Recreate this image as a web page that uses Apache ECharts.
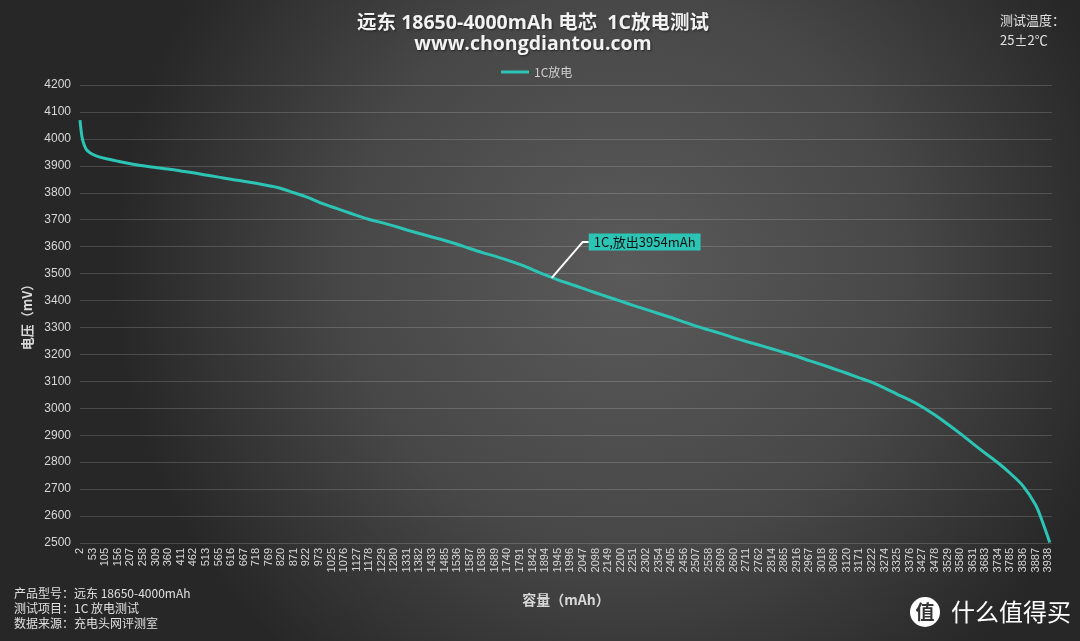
<!DOCTYPE html>
<html>
<head>
<meta charset="utf-8">
<script src="https://cdn.jsdelivr.net/npm/echarts@6/dist/echarts.min.js"></script>
<style>
html,body{margin:0;padding:0;background:#333;}
#main{width:1080px;height:641px;}
</style>
</head>
<body>
<div id="main"></div>
<script>
// x-axis tick labels (capacity, mAh)
var xTickLabels = [2,53,105,156,207,258,309,360,411,462,513,565,616,667,718,769,820,871,922,973,1025,1076,1127,1178,1229,1280,1331,1382,1433,1485,1536,1587,1638,1689,1740,1791,1842,1894,1945,1996,2047,2098,2149,2200,2251,2302,2354,2405,2456,2507,2558,2609,2660,2711,2762,2814,2865,2916,2967,3018,3069,3120,3171,3222,3274,3325,3376,3427,3478,3529,3580,3631,3683,3734,3785,3836,3887,3938];
// sampled points of the discharge curve
var capacity = [2,6,10,18,29,40,53,70,105,156,207,258,309,360,411,462,513,565,616,667,718,769,820,871,922,973,1025,1076,1127,1178,1229,1280,1331,1382,1433,1485,1536,1587,1638,1689,1740,1791,1842,1894,1945,1996,2047,2098,2149,2200,2251,2302,2354,2405,2456,2507,2558,2609,2660,2711,2762,2814,2865,2916,2967,3018,3069,3120,3171,3222,3274,3325,3376,3427,3478,3529,3580,3631,3683,3734,3785,3836,3887,3910,3945];
var voltage =  [4070,4035,4008,3980,3959,3950,3943,3936,3927,3917,3908,3900,3894,3888,3881,3874,3866,3858,3850,3843,3835,3826,3816,3800,3785,3765,3748,3732,3716,3701,3689,3676,3662,3649,3636,3623,3609,3593,3578,3565,3550,3534,3515,3495,3477,3461,3445,3429,3413,3398,3382,3367,3352,3337,3321,3305,3291,3277,3262,3248,3235,3221,3207,3193,3177,3162,3146,3130,3113,3096,3075,3052,3030,3005,2975,2942,2907,2870,2833,2798,2758,2712,2642,2592,2502];
var yTicks = {min:2500, max:4200, interval:100};
var xRange = {min:2, max:3954};
var seriesName = '1C放电';
var titleText = '远东 18650-4000mAh 电芯  1C放电测试';
var subText = 'www.chongdiantou.com';
var noteText = '1C,放出3954mAh';
var notePoint = [1920, 3484];
var infoLines = ['产品型号：远东 18650-4000mAh','测试项目：1C 放电测试','数据来源：充电头网评测室'];
var tempLines = ['测试温度：','25±2℃'];

var teal = '#2cc5b5';
var cjk = '"Noto Sans CJK SC", "Liberation Sans", sans-serif';
var ttl = '"Open Sans", "Noto Sans CJK SC", sans-serif';
var lat = '"Liberation Sans", "Noto Sans CJK SC", sans-serif';

var points = capacity.map(function (c, i) { return [c, voltage[i]]; });

var chart = echarts.init(document.getElementById('main'));
var option = {
  backgroundColor: {type:'radial', x:0.58, y:0.42, r:0.8,
    colorStops:[{offset:0,color:'#5a5a5a'},{offset:0.55,color:'#474747'},{offset:1,color:'#272727'}]},
  animation:false,
  title: {
    text: titleText + '\n' + subText,
    left: 528, top: 8, textAlign: 'center',
    textStyle: {color:'#f2f2f2', fontSize:19.5, fontWeight:'bold', fontFamily:ttl, lineHeight:21,
      textShadowColor:'rgba(0,0,0,0.5)', textShadowBlur:2, textShadowOffsetX:1, textShadowOffsetY:1}
  },
  legend: {
    data:[seriesName], top:61, left:496, itemWidth:28, itemHeight:3, itemGap:4,
    icon:'rect',
    textStyle:{color:'#d0d0d0', fontSize:12, fontFamily:cjk}
  },
  grid: {left:80, right:28, top:85, bottom:98, containLabel:false},
  xAxis: {
    type:'value', min:xRange.min, max:xRange.max,
    name:'容量（mAh）', nameLocation:'middle', nameGap:50,
    nameTextStyle:{color:'#d8d8d8', fontSize:14, fontWeight:'bold', fontFamily:cjk},
    axisLine:{show:false}, axisTick:{show:false, customValues:xTickLabels},
    splitLine:{show:false},
    axisLabel:{customValues:xTickLabels, rotate:90, color:'#d8d8d8', fontSize:11, fontFamily:lat, margin:5,
      showMinLabel:true, showMaxLabel:true, formatter:function(v){return String(v);}}
  },
  yAxis: {
    type:'value', min:yTicks.min, max:yTicks.max, interval:yTicks.interval,
    name:'电压（mV）', nameLocation:'middle', nameGap:43,
    nameTextStyle:{color:'#d8d8d8', fontSize:13, fontWeight:'bold', fontFamily:cjk},
    axisLine:{show:false}, axisTick:{show:false},
    axisLabel:{color:'#d8d8d8', fontSize:12, fontFamily:lat, margin:9, formatter:function(v){return String(v);}},
    splitLine:{lineStyle:{color:'rgba(255,255,255,0.16)', width:1}}
  },
  series: [{
    name:seriesName, type:'line', data:points, smooth:0.3, showSymbol:false, symbol:'none',
    lineStyle:{color:teal, width:3}, itemStyle:{color:teal}
  }]
};
chart.setOption(option);

var p = chart.convertToPixel({seriesIndex:0}, notePoint);
var elbow = [p[0]+31, p[1]-36];
var graphics = [
  {type:'polyline', shape:{points:[[p[0],p[1]], elbow, [elbow[0]+6, elbow[1]]]}, style:{stroke:'#ffffff', lineWidth:2, fill:null}, z:100},
  {type:'text', x:elbow[0]+6, y:elbow[1], z:101,
    style:{text:noteText, fill:'#111', fontSize:13, fontFamily:cjk, backgroundColor:teal,
      padding:[2,5,2,5], verticalAlign:'middle', align:'left'}},
  {type:'text', left:14, top:586, z:50,
    style:{text:infoLines.join('\n'), fill:'#e0e0e0', fontSize:12, fontFamily:cjk, lineHeight:15}},
  {type:'text', left:1000, top:10, z:50,
    style:{text:tempLines.join('\n'), fill:'#e0e0e0', fontSize:13, fontFamily:cjk, lineHeight:20}},
  {type:'circle', shape:{cx:925, cy:612, r:15}, style:{fill:'#ffffff'}, z:50},
  {type:'text', x:925, y:612, z:51,
    style:{text:'值', fill:'#333', fontSize:19, fontWeight:'bold', fontFamily:cjk, align:'center', verticalAlign:'middle'}},
  {type:'text', x:951, y:612, z:51,
    style:{text:'什么值得买', fill:'#ffffff', fontSize:24, fontFamily:cjk, align:'left', verticalAlign:'middle'}}
];
chart.setOption({graphic:graphics});
</script>
</body>
</html>
